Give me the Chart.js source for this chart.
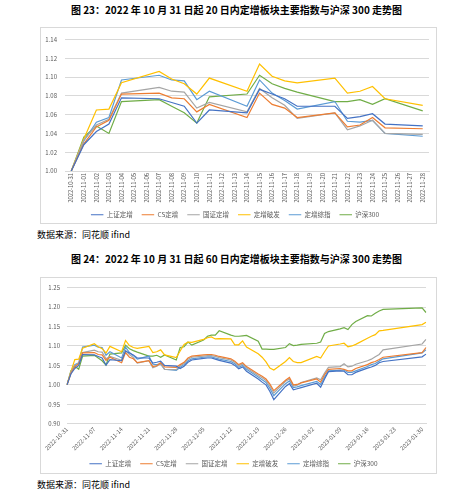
<!DOCTYPE html>
<html>
<head>
<meta charset="utf-8">
<script src="https://cdn.jsdelivr.net/npm/chart.js@4.4.1/dist/chart.umd.min.js"></script>
<style>
    body { margin: 0; width: 473px; height: 490px; background: #fff; position: relative; overflow: hidden; font-family: "Noto Sans CJK SC", sans-serif; }
    .title { position: absolute; left: 0; width: 473px; text-align: center; font-size: 10px; line-height: 12px; font-weight: bold; color: #000; }
    .box { position: absolute; left: 40px; width: 397px; height: 197px; border: 1px solid #d9d9d9; box-sizing: border-box; }
    .source { position: absolute; left: 37px; font-size: 9px; line-height: 12px; color: #000; }
    canvas { position: absolute; left: 41px; }
</style>
</head>
<body>
<div class="title" style="top:3.5px">图 23：2022 年 10 月 31 日起 20 日内定增板块主要指数与沪深 300 走势图</div>
<div class="box" style="top:27px"></div>
<canvas id="chart-20d" width="395" height="200" style="top:28px;width:395px;height:200px"></canvas>
<div class="source" style="top:229px">数据来源：同花顺 ifind</div>

<div class="title" style="top:253px">图 24：2022 年 10 月 31 日起 60 日内定增板块主要指数与沪深 300 走势图</div>
<div class="box" style="top:277px"></div>
<canvas id="chart-60d" width="395" height="200" style="top:277px;width:395px;height:200px"></canvas>
<div class="source" style="top:479px">数据来源：同花顺 ifind</div>

<script>
const series_names = ['上证定增', 'CS定增', '国证定增', '定增破发', '定增综指', '沪深300'];
const series_colors = ['#4472C4', '#ED7D31', '#A5A5A5', '#FFC000', '#5B9BD5', '#70AD47'];

const trade_days = [
    '2022-10-31', '2022-11-01', '2022-11-02', '2022-11-03', '2022-11-04',
    '2022-11-07', '2022-11-08', '2022-11-09', '2022-11-10', '2022-11-11',
    '2022-11-14', '2022-11-15', '2022-11-16', '2022-11-17', '2022-11-18',
    '2022-11-21', '2022-11-22', '2022-11-23', '2022-11-24', '2022-11-25',
    '2022-11-28', '2022-11-29', '2022-11-30', '2022-12-01', '2022-12-02',
    '2022-12-05', '2022-12-06', '2022-12-07', '2022-12-08', '2022-12-09',
    '2022-12-12', '2022-12-13', '2022-12-14', '2022-12-15', '2022-12-16',
    '2022-12-19', '2022-12-20', '2022-12-21', '2022-12-22', '2022-12-23',
    '2022-12-26', '2022-12-27', '2022-12-28', '2022-12-29', '2022-12-30',
    '2023-01-03', '2023-01-04', '2023-01-05', '2023-01-06',
    '2023-01-09', '2023-01-10', '2023-01-11', '2023-01-12', '2023-01-13',
    '2023-01-16', '2023-01-17', '2023-01-18', '2023-01-19', '2023-01-20',
    '2023-01-30', '2023-01-31'
];

// 上证定增
const sz_dz = [
    1.000, 1.028, 1.042, 1.050, 1.078, 1.077, 1.073, 1.069, 1.051, 1.065,
    1.062, 1.087, 1.082, 1.077, 1.069, 1.069, 1.056, 1.058, 1.061, 1.050,
    1.048, 1.042, 1.048, 1.058, 1.064, 1.068, 1.069, 1.069, 1.066, 1.063,
    1.056, 1.050, 1.041, 1.046, 1.035, 1.015, 1.007, 1.000, 0.983, 0.962,
    0.996, 1.003, 0.987, 0.990, 0.993, 1.004, 0.994, 1.015, 1.034, 1.036,
    1.035, 1.026, 1.026, 1.032, 1.043, 1.046, 1.050, 1.057, 1.060, 1.072,
    1.079
];
// CS定增
const cs_dz = [
    1.000, 1.029, 1.047, 1.054, 1.082, 1.083, 1.078, 1.077, 1.063, 1.071,
    1.057, 1.083, 1.071, 1.067, 1.057, 1.062, 1.047, 1.049, 1.057, 1.046,
    1.045, 1.052, 1.058, 1.069, 1.074, 1.077, 1.078, 1.078, 1.076, 1.073,
    1.067, 1.061, 1.052, 1.057, 1.047, 1.028, 1.022, 1.015, 1.002, 0.985,
    1.012, 1.019, 1.000, 1.001, 1.005, 1.015, 1.007, 1.026, 1.040, 1.042,
    1.040, 1.036, 1.036, 1.042, 1.052, 1.057, 1.060, 1.065, 1.071, 1.083,
    1.096
];
// 国证定增
const gz_dz = [
    1.000, 1.033, 1.049, 1.055, 1.083, 1.089, 1.085, 1.084, 1.067, 1.073,
    1.063, 1.088, 1.078, 1.070, 1.056, 1.062, 1.044, 1.048, 1.054, 1.040,
    1.039, 1.049, 1.055, 1.066, 1.071, 1.074, 1.075, 1.075, 1.073, 1.070,
    1.064, 1.058, 1.049, 1.054, 1.044, 1.024, 1.018, 1.011, 0.997, 0.979,
    1.009, 1.015, 0.997, 0.999, 1.006, 1.018, 1.013, 1.030, 1.045, 1.047,
    1.054, 1.046, 1.048, 1.053, 1.062, 1.066, 1.072, 1.078, 1.090, 1.105,
    1.117
];
// 定增破发
const dz_pf = [
    1.000, 1.034, 1.065, 1.066, 1.094, 1.106, 1.098, 1.093, 1.082, 1.099,
    1.085, 1.114, 1.101, 1.096, 1.094, 1.099, 1.083, 1.085, 1.090, 1.077,
    1.070, 1.087, 1.104, 1.110, 1.109, 1.117, 1.121, 1.123, 1.118, 1.119,
    1.118, 1.103, 1.103, 1.113, 1.097, 1.080, 1.071, 1.059, 1.043, 1.038,
    1.060, 1.070, 1.060, 1.057, 1.057, 1.073, 1.069, 1.085, 1.100, 1.105,
    1.107, 1.098, 1.100, 1.104, 1.120, 1.125, 1.129, 1.139, 1.140, 1.155,
    1.161
];
// 定增综指
const dz_zz = [
    1.000, 1.032, 1.052, 1.057, 1.097, 1.102, 1.097, 1.096, 1.076, 1.085,
    1.069, 1.097, 1.083, 1.075, 1.066, 1.074, 1.053, 1.052, 1.054, 1.040,
    1.037, 1.045, 1.052, 1.062, 1.067, 1.071, 1.072, 1.072, 1.069, 1.066,
    1.060, 1.054, 1.045, 1.050, 1.040, 1.020, 1.013, 1.006, 0.991, 0.972,
    1.003, 1.010, 0.993, 0.995, 0.998, 1.009, 1.001, 1.020, 1.036, 1.038,
    1.038, 1.032, 1.032, 1.036, 1.047, 1.052, 1.055, 1.061, 1.067, 1.082,
    1.090
];
// 沪深300
const hs_300 = [
    1.000, 1.036, 1.048, 1.040, 1.074, 1.076, 1.069, 1.062, 1.051, 1.079,
    1.082, 1.102, 1.093, 1.088, 1.084, 1.074, 1.074, 1.076, 1.071, 1.077,
    1.064, 1.096, 1.098, 1.110, 1.102, 1.115, 1.125, 1.128, 1.128, 1.139,
    1.128, 1.125, 1.125, 1.126, 1.127, 1.112, 1.092, 1.092, 1.091, 1.091,
    1.096, 1.106, 1.101, 1.102, 1.104, 1.107, 1.110, 1.132, 1.137, 1.144,
    1.147, 1.142, 1.155, 1.163, 1.178, 1.177, 1.184, 1.190, 1.194, 1.198,
    1.186
];

const all_series = [sz_dz, cs_dz, gz_dz, dz_pf, dz_zz, hs_300];

Chart.defaults.font.family = '"Noto Sans CJK SC", "Liberation Sans", sans-serif';
Chart.defaults.color = '#595959';

// every calendar day, like the date axis in the original
function day_labels(start, count) {
    let labels = [];
    let d = new Date(start + 'T00:00:00Z');
    for (let i = 0; i < count; i++) {
        labels.push(d.toISOString().split('T')[0]);
        d.setUTCDate(d.getUTCDate() + 1);
    }
    return labels;
}

function on_days(labels, values) {
    return labels.map(day => {
        let i = trade_days.indexOf(day);
        return i < 0 ? null : values[i];
    });
}

function make_datasets(labels) {
    return series_names.map((name, i) => ({
        label: name,
        data: on_days(labels, all_series[i]),
        borderColor: series_colors[i],
        backgroundColor: series_colors[i],
        borderWidth: 1.2,
        pointRadius: 0,
        spanGaps: true,
        fill: false,
        tension: 0
    }));
}

function legend_options() {
    return {
        display: true,
        position: 'bottom',
        labels: {
            usePointStyle: true,
            pointStyle: 'line',
            pointStyleWidth: 12.5,
            font: { size: 6.5 },
            color: '#595959',
            padding: 9
        }
    };
}

const labels_20d = day_labels('2022-10-31', 29);
const labels_60d = day_labels('2022-10-31', 93);

let chart_20d = new Chart(
    document.getElementById('chart-20d'),
    {
        type: 'line',
        data: { labels: labels_20d, datasets: make_datasets(labels_20d) },
        options: {
            responsive: false,
            animation: false,
            layout: { padding: { top: 6.3, right: 7, left: 0, bottom: 0 } },
            scales: {
                x: {
                    offset: true,
                    grid: { display: false, drawTicks: false },
                    border: { color: '#d9d9d9' },
                    ticks: { autoSkip: false, minRotation: 90, maxRotation: 90, font: { size: 5.8 }, padding: 2 },
                    afterFit: function (scale) { scale.height = 31.5; }
                },
                y: {
                    min: 1.00,
                    max: 1.14,
                    grid: { color: '#d9d9d9', drawTicks: false },
                    border: { display: false },
                    ticks: {
                        stepSize: 0.02,
                        font: { size: 6 },
                        padding: 8,
                        callback: function (value) { return value.toFixed(2); }
                    },
                    afterFit: function (scale) { scale.width = 24; }
                }
            },
            plugins: {
                legend: legend_options(),
                tooltip: { enabled: false }
            }
        }
    }
);

let chart_60d = new Chart(
    document.getElementById('chart-60d'),
    {
        type: 'line',
        data: { labels: labels_60d, datasets: make_datasets(labels_60d) },
        options: {
            responsive: false,
            animation: false,
            layout: { padding: { top: 7.3, right: 10, left: 0, bottom: 0 } },
            scales: {
                x: {
                    offset: false,
                    grid: { display: false, drawTicks: false },
                    border: { color: '#d9d9d9' },
                    ticks: {
                        autoSkip: false,
                        minRotation: 45,
                        maxRotation: 45,
                        font: { size: 5.8 },
                        padding: 2,
                        callback: function (value, index) {
                            return index % 7 == 0 ? this.getLabelForValue(value) : null;
                        }
                    },
                    afterFit: function (scale) { scale.height = 27.75; }
                },
                y: {
                    min: 0.90,
                    max: 1.25,
                    grid: { color: '#d9d9d9', drawTicks: false },
                    border: { display: false },
                    ticks: {
                        stepSize: 0.05,
                        font: { size: 6 },
                        padding: 7,
                        callback: function (value) { return value.toFixed(2); }
                    },
                    afterFit: function (scale) { scale.width = 26; }
                }
            },
            plugins: {
                legend: legend_options(),
                tooltip: { enabled: false }
            }
        }
    }
);
</script>
</body>
</html>
